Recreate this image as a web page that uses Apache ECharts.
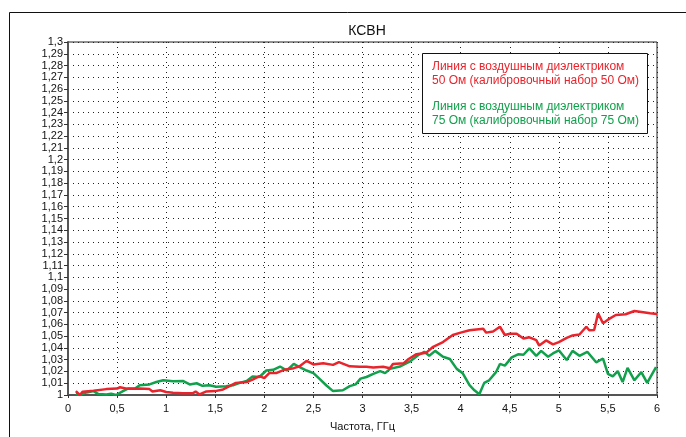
<!DOCTYPE html>
<html>
<head>
<meta charset="utf-8">
<script src="https://cdn.jsdelivr.net/npm/echarts@6/dist/echarts.min.js"></script>
<style>
  html, body { margin: 0; padding: 0; background: #fff; }
  #chart { width: 686px; height: 437px; }
</style>
</head>
<body>
<div id="chart"></div>
<script>
// частота, ГГц и КСВН для линии 50 Ом
const redX = [0.08,0.12,0.15,0.26,0.39,0.5,0.53,0.6,0.73,0.83,0.86,0.94,1.0,1.07,1.17,1.27,1.3,1.34,1.41,1.5,1.58,1.65,1.71,1.82,1.88,1.95,2.0,2.05,2.12,2.2,2.3,2.36,2.43,2.5,2.6,2.7,2.76,2.87,2.97,3.04,3.11,3.21,3.28,3.31,3.42,3.47,3.55,3.65,3.72,3.82,3.92,4.0,4.09,4.23,4.26,4.33,4.4,4.45,4.5,4.57,4.64,4.7,4.77,4.8,4.87,4.94,5.0,5.08,5.14,5.21,5.28,5.31,5.36,5.4,5.45,5.5,5.58,5.68,5.77,5.86,5.93,6.0];
const redY = [1.0033,1.000,1.0028,1.0036,1.005,1.0055,1.0066,1.0053,1.0055,1.005,1.003,1.004,1.0025,1.002,1.0014,1.0014,1.003,1.0005,1.003,1.0033,1.0047,1.0078,1.0103,1.011,1.013,1.016,1.0144,1.0186,1.0186,1.0214,1.0228,1.0244,1.029,1.026,1.027,1.0256,1.028,1.0244,1.024,1.024,1.0233,1.024,1.0228,1.0264,1.027,1.0306,1.0347,1.036,1.041,1.045,1.051,1.053,1.055,1.0564,1.053,1.054,1.058,1.051,1.052,1.052,1.048,1.049,1.0467,1.042,1.0464,1.043,1.045,1.0486,1.0506,1.0514,1.058,1.055,1.0553,1.0694,1.061,1.064,1.068,1.0686,1.0714,1.0703,1.0694,1.0689];

// частота, ГГц и КСВН для линии 75 Ом
const greenX = [0.08,0.12,0.19,0.26,0.31,0.39,0.44,0.49,0.56,0.61,0.68,0.73,0.83,0.9,0.97,1.07,1.17,1.24,1.31,1.37,1.44,1.51,1.61,1.68,1.75,1.82,1.88,1.95,2.02,2.09,2.16,2.23,2.3,2.36,2.43,2.5,2.56,2.63,2.7,2.8,2.87,2.93,2.98,3.04,3.11,3.18,3.23,3.28,3.38,3.48,3.57,3.63,3.68,3.74,3.82,3.89,3.96,4.02,4.09,4.14,4.19,4.24,4.29,4.36,4.4,4.45,4.52,4.59,4.64,4.7,4.77,4.82,4.89,4.94,5.0,5.08,5.14,5.21,5.29,5.38,5.45,5.5,5.55,5.6,5.65,5.7,5.77,5.84,5.9,5.99];
const greenY = [1.0008,1.0,1.0022,1.0033,1.0008,1.0005,1.001,1.0,1.0033,1.0055,1.0053,1.0083,1.009,1.011,1.0125,1.0117,1.012,1.009,1.010,1.0078,1.0083,1.007,1.0075,1.0083,1.0103,1.012,1.0158,1.0153,1.0208,1.0214,1.0242,1.0208,1.0264,1.0236,1.0208,1.0186,1.0139,1.0083,1.0033,1.004,1.0075,1.009,1.0139,1.0153,1.018,1.0203,1.0186,1.0222,1.0242,1.0283,1.034,1.0367,1.0333,1.0375,1.0325,1.0306,1.0222,1.0186,1.0083,1.004,1.0006,1.0103,1.0125,1.0194,1.0264,1.025,1.032,1.0347,1.0342,1.0397,1.0333,1.0375,1.0325,1.0353,1.038,1.0297,1.0375,1.0333,1.0367,1.0278,1.031,1.018,1.0158,1.0203,1.011,1.023,1.0125,1.0194,1.0103,1.0236];

const legendRed = ['Линия с воздушным диэлектриком', '50 Ом (калибровочный набор 50 Ом)'];
const legendGreen = ['Линия с воздушным диэлектриком', '75 Ом (калибровочный набор 75 Ом)'];

const FONT = '"Liberation Sans", Arial, sans-serif';
const RED = '#e8242c';
const GREEN = '#12a04c';

function fmt(v) {
    return String(+v.toFixed(2)).replace('.', ',');
}

const chart = echarts.init(document.getElementById('chart'));
chart.setOption({
    animation: false,
    backgroundColor: '#fff',
    title: {
        text: 'КСВН',
        left: 362, top: 19,
        textAlign: 'center',
        textStyle: { fontFamily: FONT, fontSize: 14, fontWeight: 'normal', color: '#111' }
    },
    grid: {
        left: 68, top: 42, right: 29, bottom: 39,
        show: true, borderColor: '#222', borderWidth: 1
    },
    xAxis: {
        type: 'value', min: 0, max: 6, interval: 0.5,
        name: 'Частота, ГГц', nameLocation: 'middle', nameGap: 26,
        nameTextStyle: { fontFamily: FONT, fontSize: 11, color: '#111' },
        axisLine: { lineStyle: { color: '#555', width: 2 } },
        axisTick: { length: 3, lineStyle: { color: '#333' } },
        axisLabel: { fontFamily: FONT, fontSize: 11, color: '#111', margin: 8, formatter: fmt },
        splitLine: { show: true, lineStyle: { color: '#222', type: [1, 4], width: 1 } }
    },
    yAxis: {
        type: 'value', min: 1, max: 1.3, interval: 0.01,
        axisLine: { show: true, lineStyle: { color: '#555', width: 2 } },
        axisTick: { show: true, length: 4, lineStyle: { color: '#333' } },
        axisLabel: { fontFamily: FONT, fontSize: 11, color: '#111', margin: 5, formatter: fmt },
        splitLine: { show: true, lineStyle: { color: '#222', type: [1, 4], width: 1 } }
    },
    series: [
        {
            name: '50 Ом', type: 'line', showSymbol: false, z: 3,
            lineStyle: { color: RED, width: 2.5 },
            data: redX.map((x, i) => [x, redY[i]])
        },
        {
            name: '75 Ом', type: 'line', showSymbol: false, z: 2,
            lineStyle: { color: GREEN, width: 2.5 },
            data: greenX.map((x, i) => [x, greenY[i]])
        }
    ],
    graphic: [
        // внешняя рамка
        { type: 'line', shape: { x1: 9.5, y1: 12.5, x2: 686, y2: 12.5 }, style: { stroke: '#111', lineWidth: 1 } },
        { type: 'line', shape: { x1: 9.5, y1: 12.5, x2: 9.5, y2: 437 }, style: { stroke: '#111', lineWidth: 1 } },
        // легенда
        { type: 'rect', z: 10, shape: { x: 422.5, y: 53.5, width: 225, height: 80 },
          style: { fill: '#fff', stroke: '#111', lineWidth: 1 } },
        { type: 'text', z: 11, x: 432, y: 60,
          style: { text: legendRed.join('\n'), fill: RED, font: '12px ' + FONT, lineHeight: 14 } },
        { type: 'text', z: 11, x: 432, y: 100,
          style: { text: legendGreen.join('\n'), fill: GREEN, font: '12px ' + FONT, lineHeight: 14 } }
    ]
});
</script>
</body>
</html>
